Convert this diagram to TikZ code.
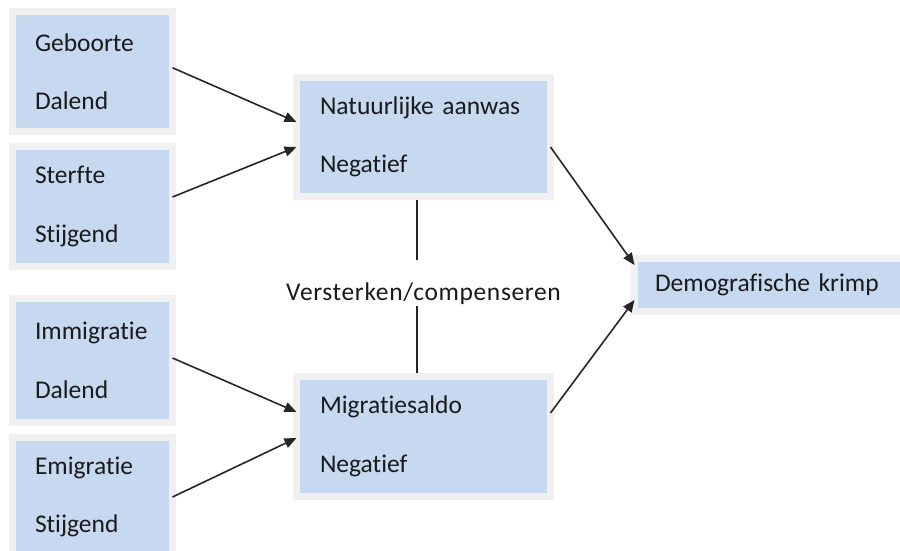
\documentclass[tikz,border=0pt]{standalone}
\usepackage{fontspec}
\setmainfont{Carlito}[Ligatures=NoCommon]
\newfontfamily\lblfont{Carlito}[Ligatures=NoCommon, LetterSpace=2.5]
\usetikzlibrary{arrows.meta,calc}
\definecolor{boxblue}{HTML}{C6D9F1}
\definecolor{boxrim}{HTML}{F0F0F0}
\definecolor{txt}{HTML}{1A1A1A}
\begin{document}
\begin{tikzpicture}[x=1pt,y=-1pt,
  box/.style={rectangle, fill=boxblue, draw=boxrim, line width=7pt, outer sep=0pt,
    inner sep=0pt, font=\fontsize{25.5}{58.5}\selectfont, text=txt, align=left},
  leftbox/.style={box, minimum width=160pt, text width=115pt},
  midbox/.style={box, minimum width=254pt, text width=207pt},
  conn/.style={draw=black!85, line width=1.6pt, -{Triangle[length=12pt,width=10pt]}},
  plain/.style={draw=black!85, line width=1.6pt},
  lbltext/.style={inner sep=0pt, text height=17pt, text depth=5pt,
    font=\lblfont\fontsize{25.5}{30}\selectfont, text=txt}
  ]
\useasboundingbox (0,0) rectangle (900,551);
\clip (0,0) rectangle (900,551);

\node[leftbox, minimum height=119.5pt] (geb) at (92.5,71.75) {Geboorte\\Dalend};
\node[leftbox, minimum height=120pt] (ster) at (92.5,206.5) {Sterfte\\Stijgend};
\node[leftbox, minimum height=124pt] (imm) at (92.5,360.5) {Immigratie\\Dalend};
\node[leftbox, minimum height=119pt] (emi) at (92.5,497) {Emigratie\\Stijgend};

\node[midbox, minimum height=119pt] (nat) at (423.5,137) {\mbox{Natuurlijke aanwas}\\Negatief};
\node[midbox, minimum height=120pt] (mig) at (423.5,436.5) {Migratiesaldo\\Negatief};

\node[box, minimum width=295.5pt, minimum height=53pt, text width=254.5pt] (dem) at (782.25,285) {Demografische krimp};

\node[lbltext] (lbl) at (423.5,294) {Versterken/compenseren};

\draw[conn] ([yshift=4pt]geb.east) -- ([yshift=15pt]nat.west);
\draw[conn] ([yshift=9.5pt]ster.east) -- ([yshift=-10pt]nat.west);
\draw[conn] ([yshift=2.5pt]imm.east) -- ([yshift=24.5pt]mig.west);
\draw[conn] (emi.east) -- ([yshift=-1.5pt]mig.west);

\draw[conn] ([yshift=-10pt]nat.east) -- ([yshift=20pt]dem.west);
\draw[conn] ([yshift=23.5pt]mig.east) -- ([yshift=-15pt]dem.west);

\draw[plain] ([xshift=-6.5pt,yshift=-3.5pt]nat.south) -- ([xshift=-6.5pt,yshift=23pt]lbl.north);
\draw[plain] ([xshift=-6.5pt,yshift=-1pt]lbl.south) -- ([xshift=-6.5pt,yshift=3.5pt]mig.north);
\end{tikzpicture}
\end{document}
